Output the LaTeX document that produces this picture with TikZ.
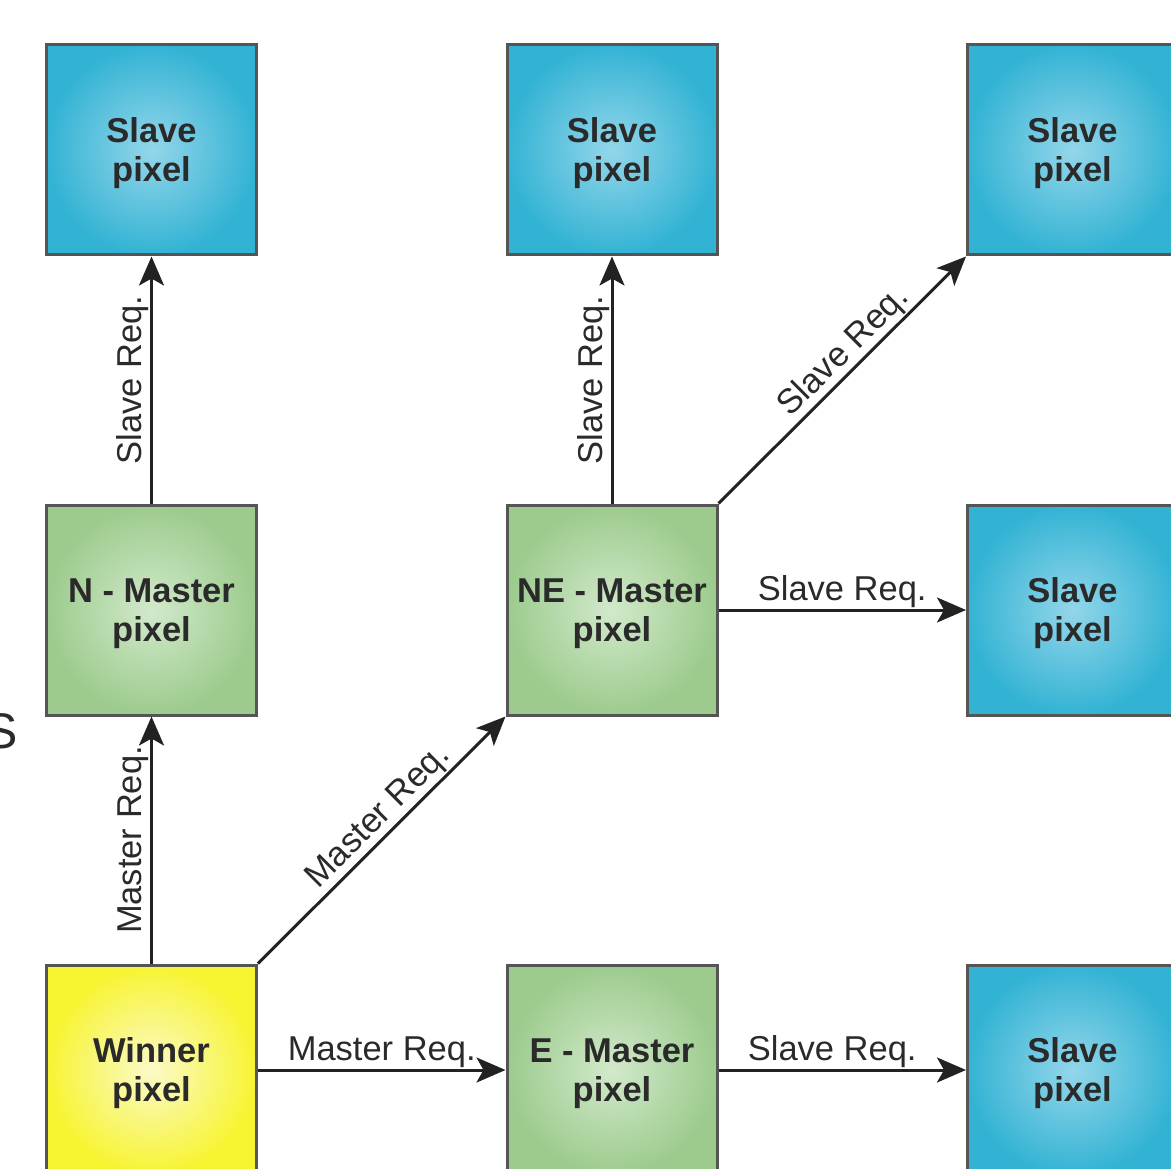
\documentclass[tikz,border=0pt]{standalone}
\usepackage{fontspec}
\setmainfont{Liberation Sans}
\usetikzlibrary{arrows.meta,shadings}
\definecolor{bordergray}{HTML}{555555}
\definecolor{textdark}{HTML}{2A2A2A}
\definecolor{arrowdark}{HTML}{222222}
\definecolor{slaveIn}{HTML}{93D6EA}
\definecolor{slaveOut}{HTML}{33B3D4}
\definecolor{masterIn}{HTML}{D2E9CB}
\definecolor{masterOut}{HTML}{9CCB8D}
\definecolor{winIn}{HTML}{FBFAC8}
\definecolor{winOut}{HTML}{F7F431}
\newcommand{\pixtext}[2]{\rule{0pt}{31pt}#1\\#2}
\tikzset{
  pixbox/.style={draw=bordergray, line width=3pt, minimum width=210pt, minimum height=210pt,
    align=center, font=\bfseries\fontsize{34.5}{39}\selectfont, text=textdark, inner sep=0pt},
  slavebox/.style={pixbox, inner color=slaveIn, outer color=slaveOut},
  masterbox/.style={pixbox, inner color=masterIn, outer color=masterOut},
  winnerbox/.style={pixbox, inner color=winIn, outer color=winOut},
  req/.style={line width=3pt, draw=arrowdark, -{Stealth[length=29pt,width=25pt,inset=7pt]}},
  reqlabel/.style={font=\fontsize{34.5}{39}\selectfont, text=textdark, sloped, above, inner sep=1pt}
}
\begin{document}
\begin{tikzpicture}[x=1pt,y=-1pt]
  \useasboundingbox (0,0) rectangle (1171,1169);
  \clip (0,0) rectangle (1171,1169);
  % boxes
  \node[slavebox] (s11) at (151.5,150) {\pixtext{Slave}{pixel}};
  \node[slavebox] (s12) at (612,150) {\pixtext{Slave}{pixel}};
  \node[slavebox] (s13) at (1072.5,150) {\pixtext{Slave}{pixel}};
  \node[masterbox] (nm) at (151.5,610) {\pixtext{N - Master}{pixel}};
  \node[masterbox] (nem) at (612,610) {\pixtext{NE - Master}{pixel}};
  \node[slavebox] (s23) at (1072.5,610) {\pixtext{Slave}{pixel}};
  \node[winnerbox] (win) at (151.5,1070) {\pixtext{Winner}{pixel}};
  \node[masterbox] (em) at (612,1070) {\pixtext{E - Master}{pixel}};
  \node[slavebox] (s33) at (1072.5,1070) {\pixtext{Slave}{pixel}};
  % partial letter at left edge
  \node[anchor=east, font=\fontsize{50}{50}\selectfont, text=textdark, inner sep=0pt] (sfrag) at (18,731) {S};
  % connectors
  \draw[req] (win.north) -- node[reqlabel] {Master Req.} (nm.south);
  \draw[req] (nm.north) -- node[reqlabel] {Slave Req.} (s11.south);
  \draw[req] (win.north east) -- node[reqlabel, pos=0.54] {Master Req.} (nem.south west);
  \draw[req] (nem.north) -- node[reqlabel] {Slave Req.} (s12.south);
  \draw[req] (nem.north east) -- node[reqlabel, pos=0.56] {Slave Req.} (s13.south west);
  \draw[req] (nem.east) -- node[reqlabel] {Slave Req.} (s23.west);
  \draw[req] (win.east) -- node[reqlabel] {Master Req.} (em.west);
  \draw[req] (em.east) -- node[reqlabel, xshift=-10pt] {Slave Req.} (s33.west);
\end{tikzpicture}
\end{document}
